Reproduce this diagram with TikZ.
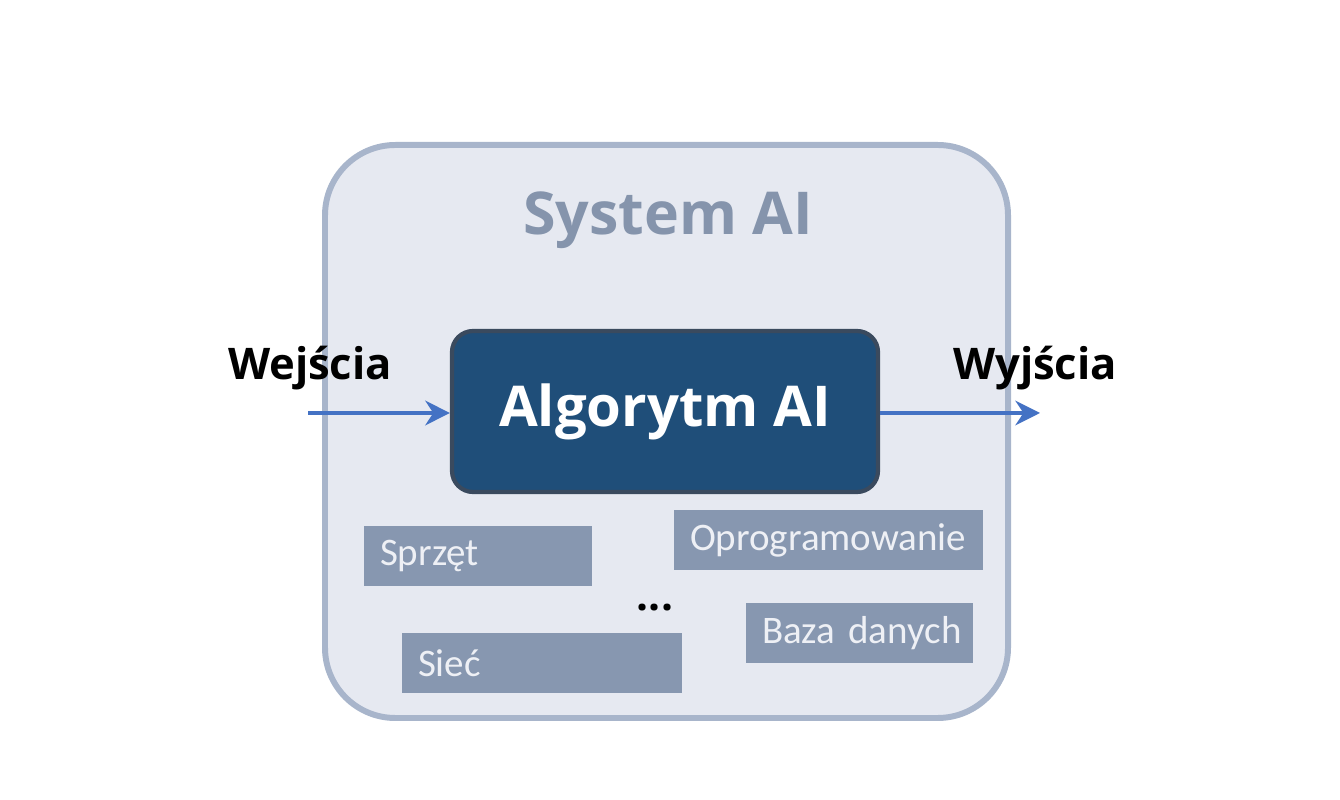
\documentclass[tikz,border=0pt]{standalone}
\usepackage{fontspec}
\setmainfont{Open Sans}
\newfontfamily\partfont{Carlito}
\usepackage{tikz}
\usetikzlibrary{arrows.meta, positioning}
\definecolor{sysfill}{HTML}{E6E9F1}
\definecolor{sysline}{HTML}{A8B5CB}
\definecolor{systitle}{HTML}{8594AC}
\definecolor{algfill}{HTML}{1F4E79}
\definecolor{algline}{HTML}{3A4A5E}
\definecolor{partfill}{HTML}{8797B0}
\definecolor{parttext}{HTML}{EEF0F5}
\definecolor{flow}{HTML}{4472C4}

\begin{document}
\begin{tikzpicture}[>=Stealth, x=1cm, y=1cm]
  \tikzset{
    system/.style={draw=sysline, fill=sysfill, line width=1.7pt,
      rounded corners=20pt, minimum width=6.83cm, minimum height=5.73cm},
    algo/.style={draw=algline, fill=algfill, line width=1.2pt,
      rounded corners=6pt, minimum width=4.26cm, minimum height=1.61cm,
      text=white, font=\fontsize{16}{18}\selectfont\bfseries},
    part/.style={fill=partfill, text=parttext, inner sep=0pt,
      minimum height=0.6cm, align=left,
      font=\partfont\fontsize{11.1}{13}\selectfont},
    io/.style={font=\fontsize{12.4}{15}\selectfont\bfseries, text=black},
    flowarrow/.style={->, draw=flow, line width=1.1pt,
      -{Stealth[length=7pt, width=7pt]}},
  }
  \useasboundingbox (0,0) rectangle (13.4,8);

  \node[system] (sys) at (6.665,3.685) {};
  \node[font=\fontsize{16.8}{20}\selectfont\bfseries, text=systitle]
    (title) at (6.68,5.8) {System AI};

  \node[algo] (alg) at (6.65,3.885) {Algorytm AI};

  % wejscia / wyjscia
  \node[io] (in) at (3.1,4.32) {Wejścia};
  \node[io] (out) at (10.35,4.32) {Wyjścia};
  \coordinate (instart) at (3.08,3.87);
  \coordinate (outend) at (10.4,3.87);
  \draw[flowarrow] (instart) -- (instart -| alg.west);
  \draw[flowarrow] (alg.east |- outend) -- (outend);

  % elementy systemu
  \node[part, text width=1.96cm, minimum width=2.28cm] (hw)
    at (4.78,2.44) {\mbox{Sprzęt}};
  \node[part, text width=2.77cm, minimum width=3.09cm] (sw)
    at (8.285,2.60) {\mbox{Oprogramowanie}};
  \node[part, text width=1.95cm, minimum width=2.27cm] (db)
    at (8.595,1.67) {\mbox{Baza danych}};
  \node[part, text width=2.48cm, minimum width=2.8cm] (net)
    at (5.42,1.365) {\mbox{Sieć}};
  \node[font=\bfseries\large] (more) at (6.55,1.92) {...};
\end{tikzpicture}
\end{document}
